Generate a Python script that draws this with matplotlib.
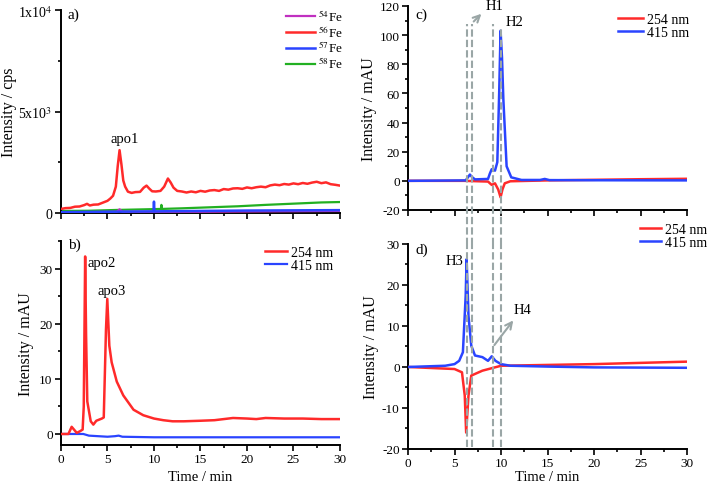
import numpy as np
import matplotlib
matplotlib.use("Agg")
import matplotlib.pyplot as plt
from matplotlib.ticker import MultipleLocator, FixedLocator

plt.rcParams['font.family'] = ['Liberation Serif', 'DejaVu Serif']
plt.rcParams['mathtext.fontset'] = 'stix'
plt.rcParams['axes.unicode_minus'] = False

RED = '#ff2a2a'
BLUE = '#2a44ff'
GREEN = '#22b022'
PURPLE = '#c030c0'
GREY = '#9aa6a6'

# ---- panel a: ICP-MS iron isotopes (cps) ----
t_fe56 = [0, 0.5, 1, 1.5, 2, 2.5, 2.8, 3.1, 3.5, 4, 4.5, 5, 5.3, 5.6, 5.9, 6.1, 6.3,
          6.5, 6.7, 6.9, 7.2, 7.6, 8, 8.5, 8.9, 9.2, 9.5, 9.8, 10.2, 10.7, 11.1, 11.5,
          11.8, 12.1, 12.5, 13, 13.5, 14, 14.5, 15, 15.5, 16, 16.5, 17, 17.5, 18, 18.5,
          19, 19.5, 20, 20.5, 21, 21.5, 22, 22.5, 23, 23.5, 24, 24.5, 25, 25.5, 26,
          26.5, 27, 27.5, 28, 28.5, 29, 29.5, 30]
fe56 = [200, 240, 250, 310, 320, 390, 450, 370, 410, 420, 510, 600, 710, 850, 1300,
        2300, 3100, 2400, 1600, 1300, 1050, 990, 1030, 1040, 1250, 1350, 1200, 1070,
        1060, 1090, 1300, 1700, 1500, 1250, 1090, 1060, 1010, 1060, 1020, 1090, 1050,
        1110, 1130, 1090, 1180, 1150, 1210, 1220, 1190, 1260, 1220, 1270, 1300, 1270,
        1360, 1400, 1370, 1430, 1400, 1460, 1420, 1480, 1440, 1500, 1540, 1470, 1510,
        1420, 1390, 1350]
t_fe58 = [0, 3, 6, 8, 10, 10.75, 10.8, 10.85, 13, 16, 19, 22, 25, 28, 30]
fe58 = [100, 110, 150, 170, 190, 200, 400, 200, 230, 280, 330, 400, 460, 520, 540]
t_fe57 = [0, 5, 9.95, 10.0, 10.05, 15, 20, 25, 30]
fe57 = [40, 60, 80, 560, 80, 100, 120, 130, 140]
t_fe54 = [0, 6, 6.3, 6.6, 15, 30]
fe54 = [20, 60, 180, 60, 60, 100]

# ---- panel b: apo fractions (mAU) ----
t_b254 = [0, 0.8, 1.15, 1.5, 1.7, 2.05, 2.33, 2.45, 2.6, 2.7, 2.83, 3.2, 3.48, 3.8,
          4.4, 4.6, 4.84, 4.98, 5.2, 5.45, 6, 6.7, 7.8, 8.85, 10, 11, 12, 13.2, 15,
          16.5, 18.5, 20, 21, 22, 24, 26, 28, 30]
b254 = [0, 0, 1.3, 0.6, 0.2, 0.5, 0.8, 5, 32.2, 18, 5.9, 2.3, 1.7, 2.4, 2.8, 3.0, 19,
        24.5, 16, 13, 9.5, 7, 4.4, 3.4, 2.8, 2.5, 2.3, 2.3, 2.4, 2.5, 2.9, 2.8, 2.7, 2.9,
        2.8, 2.8, 2.7, 2.7]
t_b415 = [0, 2.4, 3, 5, 5.8, 6.2, 6.6, 10, 20, 30]
b415 = [0, 0, -0.3, -0.5, -0.4, -0.3, -0.5, -0.6, -0.6, -0.6]

# ---- panel c: holo fractions (mAU) ----
t_c415 = [0, 6.2, 6.45, 6.65, 6.9, 7.2, 8.6, 8.8, 9.0, 9.35, 9.6, 9.8, 9.95, 10.1,
          10.25, 10.6, 11.1, 12.2, 14.2, 14.7, 15.2, 20, 30]
c415 = [0, 0.3, 2.5, 4.3, 2.5, 1.0, 1.3, 5, 8, 7, 12.8, 60, 103, 85, 56, 10, 2.4, 0.6,
        0.6, 1.3, 0.5, 0.4, 0.3]
t_c254 = [0, 6, 8.6, 9.0, 9.35, 9.7, 9.95, 10.15, 10.4, 11, 15, 20, 25, 30]
c254 = [0, 0, -0.5, -2.8, -1.7, -6, -11.3, -6, -1.7, -0.3, 0.3, 0.7, 1.1, 1.4]

# ---- panel d: holo fractions (mAU) ----
t_d415 = [0, 4, 5, 5.5, 5.9, 6.2, 6.3, 6.5, 6.8, 7.2, 8, 8.6, 9, 9.4, 10, 11, 15, 20, 30]
d415 = [0, 0.3, 0.7, 1.5, 3.6, 17.4, 26.3, 12.5, 5.2, 2.8, 2.4, 1.5, 2.6, 1.5, 0.7,
        0.3, 0.1, -0.1, -0.2]
t_d254 = [0, 3, 5, 5.8, 6.1, 6.25, 6.5, 6.8, 8, 9, 10, 15, 20, 25, 30]
d254 = [0, -0.3, -0.5, -1.3, -7, -16, -7, -2.1, -0.9, -0.3, 0.3, 0.5, 0.7, 1.0, 1.3]

# retention windows marked by the dashed lines (min)
h_lines = [6.3, 6.85, 9.1, 10.0]


def style_axes(ax):
    for side in ('top', 'right'):
        ax.spines[side].set_visible(False)
    for side in ('left', 'bottom'):
        ax.spines[side].set_linewidth(1.4)
    ax.tick_params(which='both', direction='out', width=1.2, labelsize=9.5, pad=2)
    ax.tick_params(which='major', length=4)
    ax.tick_params(which='minor', length=2.5)
    ax.set_xlim(0, 30)
    ax.xaxis.set_major_locator(MultipleLocator(5))
    ax.xaxis.set_minor_locator(MultipleLocator(2.5))


fig = plt.figure(figsize=(7.09, 4.85), dpi=100)
ax_a = fig.add_axes([0.086, 0.5588, 0.3935, 0.418])
ax_b = fig.add_axes([0.086, 0.0804, 0.3935, 0.4206])
ax_c = fig.add_axes([0.5755, 0.565, 0.3935, 0.4206])
ax_d = fig.add_axes([0.5755, 0.0722, 0.3935, 0.4227])

# a)
style_axes(ax_a)
l58, = ax_a.plot(t_fe58, fe58, color=GREEN, lw=1.6, zorder=2)
l54, = ax_a.plot(t_fe54, fe54, color=PURPLE, lw=1.6, zorder=3)
l57, = ax_a.plot(t_fe57, fe57, color=BLUE, lw=1.8, zorder=4)
l56, = ax_a.plot(t_fe56, fe56, color=RED, lw=1.8, zorder=5)
ax_a.set_ylim(0, 10000)
ax_a.yaxis.set_major_locator(FixedLocator([0, 5000, 10000]))
ax_a.yaxis.set_minor_locator(FixedLocator([2500, 7500]))
ax_a.set_yticklabels(['0', r'5x10$^3$', r'1x10$^4$'])
ax_a.tick_params(axis='y', labelsize=10)
ax_a.tick_params(axis='x', labelbottom=False)
ax_a.set_ylabel('Intensity / cps', fontsize=11.5, va='center')
ax_a.yaxis.set_label_coords(-0.185, 0.5)
ax_a.text(6.9, 3650, 'apo1', ha='center', va='center', fontsize=10.5)
ax_a.text(0.025, 0.98, 'a)', transform=ax_a.transAxes, ha='left', va='center', fontsize=11)
ax_a.legend([l54, l56, l57, l58], [r'$^{54}$Fe', r'$^{56}$Fe', r'$^{57}$Fe', r'$^{58}$Fe'],
            loc='upper left', bbox_to_anchor=(286 / 709, 1 - 9 / 485),
            bbox_transform=fig.transFigure, frameon=False, fontsize=9.5,
            handlelength=2.2, handletextpad=0.2, labelspacing=0.0, borderpad=0,
            borderaxespad=0)

# b)
style_axes(ax_b)
ax_b.plot(t_b415, b415, color=BLUE, lw=1.6, label='415 nm', zorder=2)
ax_b.plot(t_b254, b254, color=RED, lw=1.8, label='254 nm', zorder=3)
ax_b.set_ylim(-2, 35)
ax_b.yaxis.set_major_locator(MultipleLocator(10))
ax_b.yaxis.set_minor_locator(MultipleLocator(5))
ax_b.set_xlabel('Time / min', fontsize=10.5, va='center')
ax_b.xaxis.set_label_coords(0.5, -0.152)
ax_b.set_ylabel('Intensity / mAU', fontsize=11.5, labelpad=4)
ax_b.text(4.4, 31.1, 'apo2', ha='center', va='center', fontsize=10.5)
ax_b.text(5.4, 26, 'apo3', ha='center', va='center', fontsize=10.5)
ax_b.text(0.025, 0.985, 'b)', transform=ax_b.transAxes, ha='left', va='center', fontsize=11)
h, lab = ax_b.get_legend_handles_labels()
ax_b.legend(h[::-1], lab[::-1], loc='upper left', bbox_to_anchor=(265 / 709, 1 - 247 / 485),
            bbox_transform=fig.transFigure, frameon=False, fontsize=10,
            handlelength=1.6, handletextpad=0.3, labelspacing=0.0, borderpad=0,
            borderaxespad=0)

# c)
style_axes(ax_c)
ax_c.plot(t_c254, c254, color=RED, lw=1.8, label='254 nm', zorder=3)
ax_c.plot(t_c415, c415, color=BLUE, lw=1.8, label='415 nm', zorder=4)
ax_c.set_ylim(-20, 120)
ax_c.yaxis.set_major_locator(MultipleLocator(20))
ax_c.yaxis.set_minor_locator(MultipleLocator(10))
ax_c.tick_params(axis='x', labelbottom=False)
ax_c.set_ylabel('Intensity / mAU', fontsize=11.5, labelpad=2)
ax_c.text(0.025, 0.96, 'c)', transform=ax_c.transAxes, ha='left', va='center', fontsize=11)
for x in h_lines:
    ax_c.axvline(x, ymin=-0.17, ymax=0.91 if x < 9.5 else 0.89, color=GREY, lw=1.5,
                 ls=(0, (3.5, 1.5)), clip_on=False, zorder=6)
ax_c.annotate('', xy=(8.1, 116), xytext=(6.85, 108), annotation_clip=False,
              arrowprops=dict(arrowstyle='->', color=GREY, lw=1.5, mutation_scale=12))
ax_c.text(8.3, 120, 'H1', ha='left', va='center', fontsize=10.5)
ax_c.text(11.5, 109.5, 'H2', ha='center', va='center', fontsize=10.5)
ax_c.legend(loc='upper left', bbox_to_anchor=(618 / 709, 1 - 14 / 485),
            bbox_transform=fig.transFigure, frameon=False, fontsize=10,
            handlelength=1.8, handletextpad=0.3, labelspacing=0.0, borderpad=0,
            borderaxespad=0)

# d)
style_axes(ax_d)
ax_d.plot(t_d254, d254, color=RED, lw=1.8, label='254 nm', zorder=3)
ax_d.plot(t_d415, d415, color=BLUE, lw=1.8, label='415 nm', zorder=4)
ax_d.set_ylim(-20, 30)
ax_d.yaxis.set_major_locator(MultipleLocator(10))
ax_d.yaxis.set_minor_locator(MultipleLocator(5))
ax_d.set_xlabel('Time / min', fontsize=10.5, va='center')
ax_d.xaxis.set_label_coords(0.5, -0.132)
ax_d.set_ylabel('Intensity / mAU', fontsize=11.5, labelpad=2)
ax_d.text(0.025, 0.976, 'd)', transform=ax_d.transAxes, ha='left', va='center', fontsize=11)
for x in h_lines:
    ax_d.axvline(x, ymin=0.01, ymax=1.0, color=GREY, lw=1.5, ls=(0, (3.5, 1.5)),
                 clip_on=False, zorder=6)
ax_d.annotate('', xy=(11.5, 11.9), xytext=(9.1, 4.8), annotation_clip=False,
              arrowprops=dict(arrowstyle='->', color=GREY, lw=1.5, mutation_scale=12))
ax_d.text(5.05, 25.9, 'H3', ha='center', va='center', fontsize=10.5)
ax_d.text(12.3, 14.1, 'H4', ha='center', va='center', fontsize=10.5)
ax_d.legend(loc='upper left', bbox_to_anchor=(640 / 709, 1 - 224 / 485),
            bbox_transform=fig.transFigure, frameon=False, fontsize=10,
            handlelength=1.5, handletextpad=0.3, labelspacing=0.0, borderpad=0,
            borderaxespad=0)

fig.savefig('out.png', dpi=100)
